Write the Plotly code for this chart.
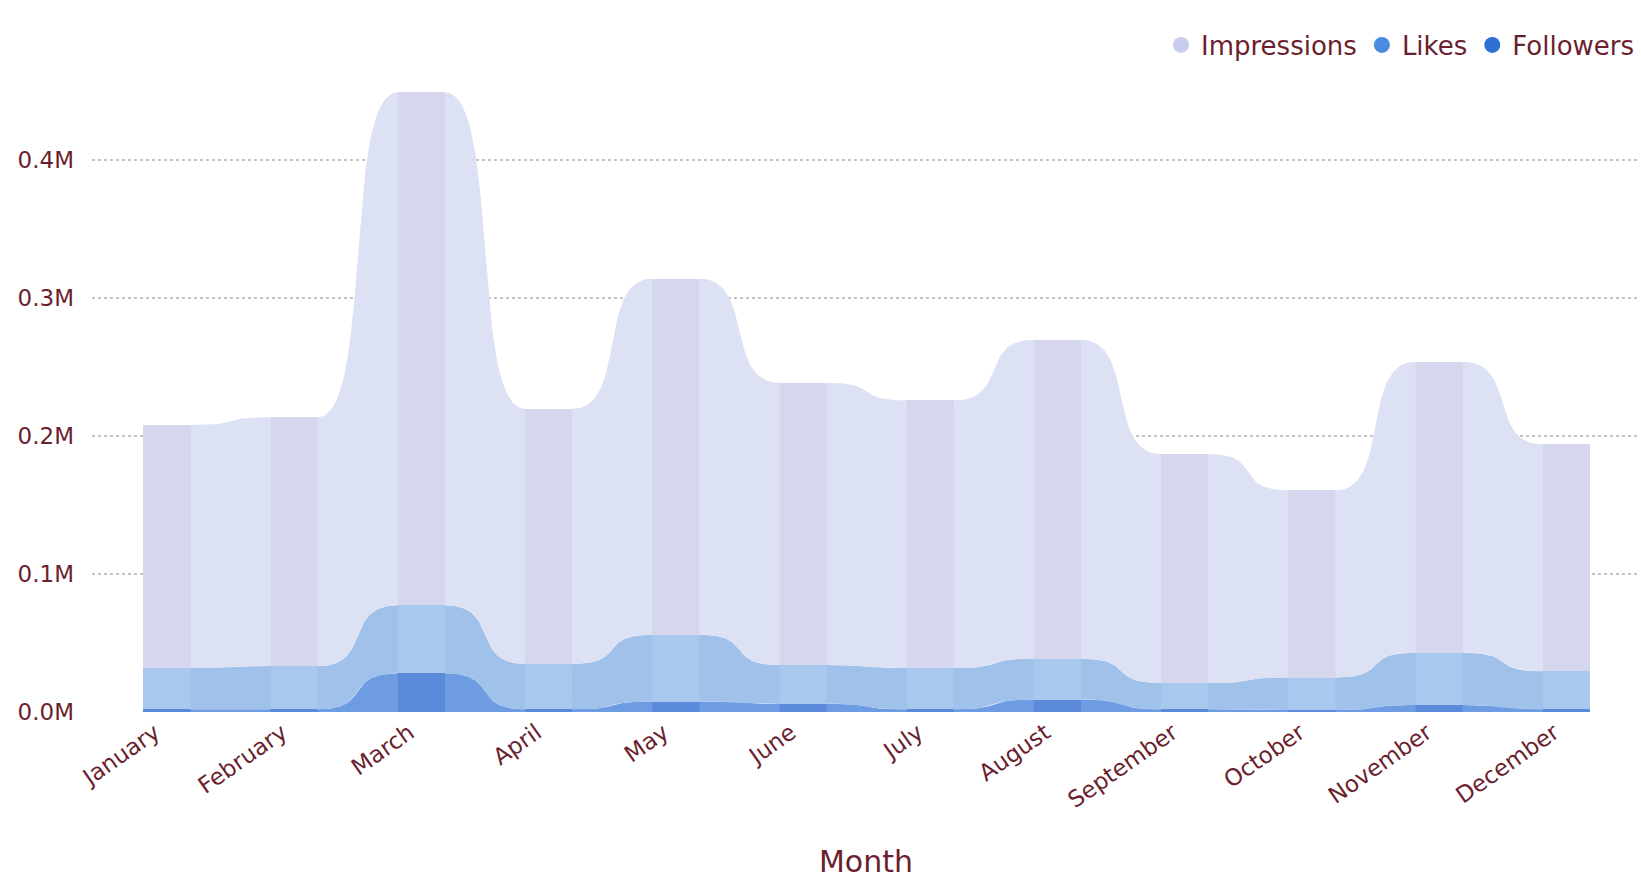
import numpy as np
import plotly.graph_objects as go

# ---------------- data ----------------
months = ["January", "February", "March", "April", "May", "June",
          "July", "August", "September", "October", "November", "December"]
followers = [2000, 2000, 28000, 2000, 7600, 6000, 2000, 9000, 2000, 1500, 5000, 2000]
likes = [29800, 31300, 49300, 32800, 48400, 28000, 29800, 29600, 19000, 23500, 38000, 27500]
impressions = [176200, 180300, 371700, 184900, 258000, 204600, 194000, 231100, 166000, 135600, 210800, 164500]

series_names = ["Followers", "Likes", "Impressions"]
series_values = [followers, likes, impressions]

y_ticks = [0, 100000, 200000, 300000, 400000]
y_ticktext = ["0.0M", "0.1M", "0.2M", "0.3M", "0.4M"]

# ---------------- styles ----------------
col_colors = {"Followers": "#5b8adb", "Likes": "#a9c8ee", "Impressions": "#d6d7ef"}
rib_colors = {"Followers": "#6e9ce2", "Likes": "#9fc1ea", "Impressions": "#dde1f4"}
leg_colors = {"Impressions": "#c8cdef", "Likes": "#4a8de0", "Followers": "#2e6fd6"}
text_color = "#6b1f2e"
font_family = "DejaVu Sans, Verdana, sans-serif"
bar_w = 0.378
seam = 0.004
ease_k = 0.7

x = np.arange(len(months))
bases = []
cum = np.zeros(len(months))
for vals in series_values:
    bases.append(cum.copy())
    cum = cum + np.array(vals, dtype=float)


def ribbon_curve(x0, x1, y0, y1, k=ease_k, n=50):
    t = np.linspace(0, 1, n)
    d = x1 - x0
    cx = [x0, x0 + k * d, x1 - k * d, x1]
    cy = [y0, y0, y1, y1]
    b = [(1 - t) ** 3, 3 * (1 - t) ** 2 * t, 3 * (1 - t) * t ** 2, t ** 3]
    xs = sum(bi * ci for bi, ci in zip(b, cx))
    ys = sum(bi * ci for bi, ci in zip(b, cy))
    return xs, ys


fig = go.Figure()

# ribbons
for name, vals, base in zip(series_names, series_values, bases):
    top = base + np.array(vals, dtype=float)
    rx, ry = [], []
    for i in range(len(months) - 1):
        xa = x[i] + bar_w / 2 - seam
        xb = x[i + 1] - bar_w / 2 + seam
        tx, ty = ribbon_curve(xa, xb, top[i], top[i + 1])
        bx, by = ribbon_curve(xa, xb, base[i], base[i + 1])
        rx += list(tx) + list(bx[::-1]) + [tx[0], None]
        ry += list(ty) + list(by[::-1]) + [ty[0], None]
    fig.add_trace(go.Scatter(x=rx, y=ry, mode="lines", fill="toself",
                             fillcolor=rib_colors[name], line=dict(width=0),
                             hoverinfo="skip", showlegend=False))

# columns
for name, vals, base in zip(series_names, series_values, bases):
    fig.add_trace(go.Bar(x=x, y=vals, base=base, width=bar_w,
                         marker=dict(color=col_colors[name], line=dict(width=0)),
                         name=name, showlegend=False))

# legend entries
for name in ["Impressions", "Likes", "Followers"]:
    fig.add_trace(go.Scatter(x=[None], y=[None], mode="markers", name=name,
                             marker=dict(symbol="circle", size=18, color=leg_colors[name])))

plot_top = 80
plot_bottom = 712
px_per_unit = 1380.0  # pixels per 1M
y_max = (plot_bottom - plot_top) / px_per_unit * 1e6

fig.update_layout(
    width=1641, height=879,
    margin=dict(l=92, r=1, t=plot_top, b=879 - plot_bottom, autoexpand=False),
    paper_bgcolor="white", plot_bgcolor="white",
    barmode="overlay", bargap=0,
    font=dict(family=font_family, color=text_color, size=23),
    showlegend=True,
    legend=dict(orientation="h", x=1.0, xanchor="right", y=1 + 35 / (plot_bottom - plot_top),
                yanchor="middle", font=dict(size=26, color=text_color), itemwidth=30,
                bgcolor="rgba(0,0,0,0)", tracegroupgap=0),
    xaxis=dict(range=[-0.59, 11.58], tickmode="array", tickvals=list(x), ticktext=months,
               tickangle=-35, showgrid=False, zeroline=False, showline=False, ticks="",
               ticklabelshift=-12, ticklabelstandoff=2,
               tickfont=dict(size=23, color=text_color),
               title=dict(text="Month", font=dict(size=30, color=text_color), standoff=42)),
    yaxis=dict(range=[0, y_max], tickmode="array", tickvals=y_ticks, ticktext=y_ticktext,
               showgrid=True, gridcolor="#c4c4c4", griddash="dot", gridwidth=1.5,
               zeroline=False, showline=False, ticks="", ticklabelstandoff=17,
               tickfont=dict(size=23, color=text_color)),
)

fig.write_html(
    "out.html",
    config={"displayModeBar": False},
    post_script="document.body.style.margin='0px';document.body.style.padding='0px';"
                "document.body.style.overflow='hidden';",
)
